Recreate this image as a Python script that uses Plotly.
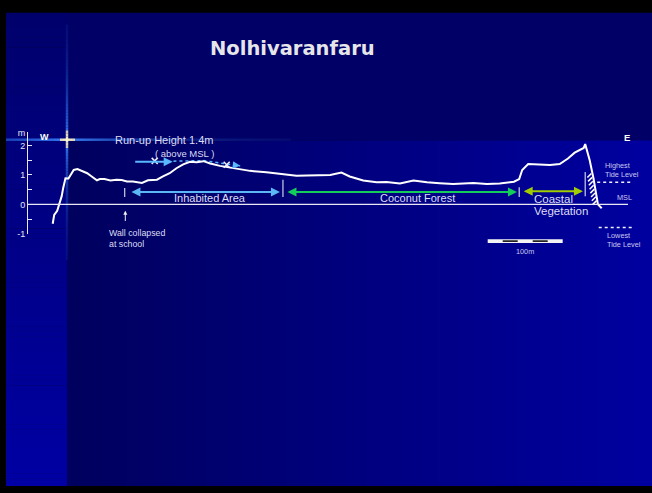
import math
import plotly.graph_objects as go

# ---------------- data ----------------
distance_m = [0, 2, 6, 9, 12, 14, 17, 21, 24, 28, 33, 39, 46, 52, 59, 63, 69, 77, 85, 92,
              99, 107, 119, 127, 139, 147, 156, 165, 174, 183, 192, 201, 210, 223, 241, 263,
              285, 307, 325, 339, 370, 385, 396, 414, 432, 445, 463, 481, 499, 516, 534, 561,
              579, 596, 615, 622, 626, 634, 650, 663, 676, 687, 696, 708, 710, 716, 721, 727, 732]
elevation_m = [-0.66, -0.36, -0.22, 0.0, 0.28, 0.56, 0.89, 0.88, 1.0, 1.17, 1.2, 1.14, 1.06,
               0.95, 0.82, 0.86, 0.86, 0.81, 0.84, 0.83, 0.78, 0.78, 0.73, 0.82, 0.84, 0.95,
               1.06, 1.23, 1.36, 1.45, 1.43, 1.47, 1.39, 1.31, 1.23, 1.14, 1.09, 1.03, 0.97,
               0.98, 1.0, 1.08, 0.95, 0.81, 0.75, 0.76, 0.71, 0.81, 0.75, 0.72, 0.69, 0.73,
               0.69, 0.71, 0.77, 0.86, 1.17, 1.37, 1.36, 1.34, 1.37, 1.56, 1.76, 1.92, 2.05,
               1.5, 0.89, 0.0, -0.13]

runup_marks_x = [136, 232]
runup_marks_y = [1.48, 1.35]
runup_trace_x = [161, 201, 250]
runup_trace_y = [1.47, 1.49, 1.31]
runup_arrow_x = [108, 160]
runup_arrow_y = [1.45, 1.45]

region_names = ["Inhabited Area", "Coconut Forest", "Coastal Vegetation"]
region_start = [103, 311, 626]
region_end = [303, 619, 707]
region_level = [0.42, 0.42, 0.45]
region_colors = ["#5cb8f5", "#14cc5a", "#a0cc00"]
boundary_x = [96, 307, 622, 710]
boundary_top = [0.56, 0.84, 0.58, 1.10]
boundary_bottom = [0.25, 0.25, 0.25, 0.28]

seawall_x = [715.5, 716.5, 717.5, 718.5, 719.5, 720.5, 721.5, 722.5]
seawall_y = [0.98, 0.85, 0.72, 0.58, 0.45, 0.32, 0.19, 0.06]

tide_levels = [0.75, -0.79]          # highest, lowest
tide_x = [[726, 770], [728, 772]]
scale_bar_start = 580
scale_bar_length = 100

y_ticks = [-1, 0, 1, 2, 2.45]
y_ticktext = ["-1", "0", "1", "2", "m"]
y_minor = [-0.5, 0.5, 1.5]

# ---------------- geometry of the slide ----------------
W, H = 652, 493
X0_PX, PX_PER_M = 52.7, 0.75
Y0_PX, PX_PER_UNIT = 203.5, 30.0
x_range = [-X0_PX / PX_PER_M, (W - X0_PX) / PX_PER_M]
y_range = [(Y0_PX - H) / PX_PER_UNIT, Y0_PX / PX_PER_UNIT]
y2_range = [-1, 2.45]


def fx(px):
    return (px - X0_PX) / PX_PER_M


def fy(py):
    return (Y0_PX - py) / PX_PER_UNIT


def xp(px):
    return px / W


def yp(py):
    return 1 - py / H


def mix(c1, c2, t):
    return "rgb({},{},{})".format(*[round(a + (b - a) * t) for a, b in zip(c1, c2)])


FONT = "Liberation Sans, Arial, sans-serif"
TXT = "#dcdcf2"

shapes = []
# top band
shapes.append(dict(type="rect", xref="paper", yref="paper", x0=xp(67), x1=1, y0=yp(138), y1=yp(8),
                   fillcolor="#000066", line_width=0, layer="below"))
# lower band, horizontal gradient
step = 5
for px in range(67, W, step):
    t = (px - 67) / (W - 67)
    shapes.append(dict(type="rect", xref="paper", yref="paper", x0=xp(px), x1=xp(min(px + step + 0.5, W)),
                       y0=yp(491), y1=yp(138), fillcolor=mix((0, 0, 0x5e), (0, 0, 0xa0), t),
                       line_width=0, layer="below"))
# left strip, vertical gradient
for py in range(8, 491, step):
    t = (py - 8) / (491 - 8)
    shapes.append(dict(type="rect", xref="paper", yref="paper", x0=xp(6), x1=xp(67),
                       y0=yp(min(py + step + 0.5, 491)), y1=yp(py),
                       fillcolor=mix((0, 0, 0x6c), (0, 0, 0xa4), t), line_width=0, layer="below"))
# lens flare: horizontal streak
for px in range(6, 290, 3):
    d = abs(px + 1.5 - 67)
    op = 0.95 * math.exp(-d / 90)
    col = "#fff8d0" if d < 8 else "#3a86ff"
    shapes.append(dict(type="line", xref="paper", yref="paper", x0=xp(px), x1=xp(px + 3),
                       y0=yp(137.5), y1=yp(137.5), line=dict(color=col, width=2.5), opacity=op,
                       layer="below"))
# lens flare: vertical streak
for py in range(20, 260, 3):
    d = abs(py + 1.5 - 137.5)
    op = 0.95 * math.exp(-d / 50)
    col = "#fff8d0" if d < 10 else "#3a86ff"
    shapes.append(dict(type="line", xref="paper", yref="paper", x0=xp(67), x1=xp(67),
                       y0=yp(py), y1=yp(py + 3), line=dict(color=col, width=2.5), opacity=op,
                       layer="below"))

# MSL line
shapes.append(dict(type="line", xref="paper", yref="y", x0=xp(27), x1=xp(628), y0=0, y1=0,
                   line=dict(color="#e8e8f4", width=1.2)))
# region boundary bars
for bx, bt, bb in zip(boundary_x, boundary_top, boundary_bottom):
    shapes.append(dict(type="line", xref="x", yref="y", x0=bx, x1=bx, y0=bb, y1=bt,
                       line=dict(color="#d0d0e8", width=1.2)))
# tide level lines
for lvl, (tx0, tx1) in zip(tide_levels, tide_x):
    shapes.append(dict(type="line", xref="x", yref="y", x0=tx0, x1=tx1, y0=lvl, y1=lvl,
                       line=dict(color="#f0f0ff", width=1.5, dash="dot")))
# scale bar
shapes.append(dict(type="rect", xref="x", yref="y", x0=scale_bar_start,
                   x1=scale_bar_start + scale_bar_length, y0=fy(243), y1=fy(239),
                   fillcolor="#f4f4f4", line_width=0))
for q in (0.2, 0.6):
    shapes.append(dict(type="line", xref="x", yref="y",
                       x0=scale_bar_start + scale_bar_length * q,
                       x1=scale_bar_start + scale_bar_length * (q + 0.2),
                       y0=fy(241), y1=fy(241), line=dict(color="#000000", width=1.5)))

fig = go.Figure()
fig.add_trace(go.Scatter(x=distance_m, y=elevation_m, xaxis="x", yaxis="y2", mode="lines",
                         line=dict(color="#ffffff", width=2), hoverinfo="skip", showlegend=False))
fig.add_trace(go.Scatter(x=runup_trace_x, y=runup_trace_y, mode="lines",
                         line=dict(color="#5ab8ff", width=1.5, dash="dot"), showlegend=False))
fig.add_trace(go.Scatter(x=seawall_x, y=seawall_y, mode="markers",
                         marker=dict(symbol="line-ne", size=4, line=dict(color="#ffffff", width=1.5)),
                         showlegend=False))
fig.add_trace(go.Scatter(x=runup_marks_x, y=runup_marks_y, mode="markers",
                         marker=dict(symbol="x-thin", size=6, line=dict(color="#f0f0ff", width=1.5)),
                         showlegend=False))

ann = []
# title
ann.append(dict(x=xp(292), y=yp(44), xref="paper", yref="paper", text="<b>Nolhivaranfaru</b>",
                xanchor="center", yanchor="middle", showarrow=False,
                font=dict(family="DejaVu Sans, sans-serif", size=19.5, color="#e6e6ea")))
ann.append(dict(x=fx(44), y=fy(135), text="<b>W</b>", showarrow=False,
                font=dict(family=FONT, size=9, color="#ffffff")))
ann.append(dict(x=fx(627), y=fy(135.5), text="<b>E</b>", showarrow=False,
                font=dict(family=FONT, size=9.5, color="#ffffff")))
ann.append(dict(x=fx(164), y=fy(137.5), text="Run-up Height 1.4m", showarrow=False,
                font=dict(family=FONT, size=11, color=TXT)))
ann.append(dict(x=fx(184), y=fy(151.8), text="( above MSL )", showarrow=False,
                font=dict(family=FONT, size=9.5, color=TXT)))
# run-up arrows
ann.append(dict(x=runup_arrow_x[1], y=runup_arrow_y[1], ax=runup_arrow_x[0], ay=runup_arrow_y[0],
                axref="x", ayref="y", text="", showarrow=True, arrowhead=2, arrowsize=1,
                arrowwidth=1.8, arrowcolor="#5ab8ff"))
ann.append(dict(x=runup_trace_x[-1], y=runup_trace_y[-1], ax=runup_trace_x[-1] - 6,
                ay=runup_trace_y[-1] + 0.02, axref="x", ayref="y", text="", showarrow=True,
                arrowhead=2, arrowsize=1, arrowwidth=1.5, arrowcolor="#5ab8ff"))
# region arrows
for s, e, lvl, col in zip(region_start, region_end, region_level, region_colors):
    ann.append(dict(x=e, y=lvl, ax=s, ay=lvl, axref="x", ayref="y", text="", showarrow=True,
                    arrowhead=2, arrowside="end+start", arrowsize=0.9, arrowwidth=2, arrowcolor=col))
ann.append(dict(x=fx(210), y=fy(197.3), text=region_names[0], showarrow=False,
                font=dict(family=FONT, size=11, color=TXT)))
ann.append(dict(x=fx(417), y=fy(197.3), text=region_names[1], showarrow=False,
                font=dict(family=FONT, size=11, color=TXT)))
w1, w2 = region_names[2].split(" ")
ann.append(dict(x=fx(532), y=fy(198), text=w1, showarrow=False, xanchor="left",
                font=dict(family=FONT, size=11.5, color=TXT)))
ann.append(dict(x=fx(532), y=fy(210.7), text=w2, showarrow=False, xanchor="left",
                font=dict(family=FONT, size=11.5, color=TXT)))
# wall collapsed
ann.append(dict(x=fx(125.3), y=fy(210), ax=fx(125.3), ay=fy(222), axref="x", ayref="y", text="",
                showarrow=True, arrowhead=2, arrowsize=0.8, arrowwidth=1, arrowcolor="#f0f0f0"))
ann.append(dict(x=fx(107), y=fy(232.7), text="Wall collapsed", showarrow=False, xanchor="left",
                font=dict(family=FONT, size=8.8, color=TXT)))
ann.append(dict(x=fx(107), y=fy(244), text="at school", showarrow=False, xanchor="left",
                font=dict(family=FONT, size=8.8, color=TXT)))
# tide legend
SM = dict(family=FONT, size=7.3, color="#c8c8f0")
for t, px, py in [("Highest", 603, 164.3), ("Tide Level", 603, 172.7), ("MSL", 615, 196),
                  ("Lowest", 605, 235.7), ("Tide Level", 605, 244.3)]:
    ann.append(dict(x=fx(px), y=fy(py), text=t, showarrow=False, xanchor="left", font=SM))
ann.append(dict(x=scale_bar_start + scale_bar_length / 2, y=fy(251.5), text="100m",
                showarrow=False, font=SM))

fig.update_layout(
    width=W, height=H, margin=dict(l=0, r=0, t=0, b=0),
    paper_bgcolor="#000000", plot_bgcolor="rgba(0,0,0,0)",
    showlegend=False, shapes=shapes, annotations=ann,
    xaxis=dict(domain=[0, 1], range=x_range, visible=False, anchor="y"),
    yaxis=dict(domain=[0, 1], range=y_range, visible=False),
    yaxis2=dict(domain=[yp(Y0_PX - PX_PER_UNIT * y2_range[0]), yp(Y0_PX - PX_PER_UNIT * y2_range[1])],
                range=y2_range, anchor="free", position=xp(27), showline=True,
                linecolor="#e8e8f4", linewidth=1, showgrid=False, zeroline=False,
                ticks="inside", ticklen=4, tickwidth=1, tickcolor="#e8e8f4",
                tickmode="array", tickvals=y_ticks, ticktext=y_ticktext,
                tickfont=dict(family=FONT, size=9, color="#e8e8f4"),
                minor=dict(tickmode="array", tickvals=y_minor, ticks="inside", ticklen=4,
                           tickcolor="#e8e8f4", showgrid=False)),
)
fig.write_html("out.html", config={"displayModeBar": False},
               post_script="document.body.style.margin='0';")
